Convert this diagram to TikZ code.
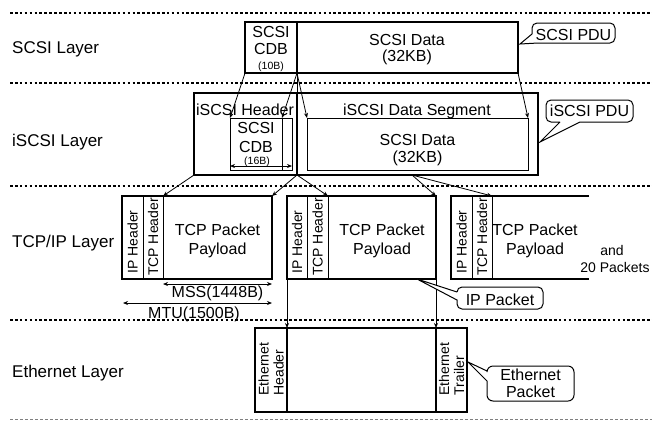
\documentclass[tikz,border=0pt]{standalone}
\usepackage{fontspec}
\setmainfont{Liberation Sans}
\usetikzlibrary{arrows.meta}
\begin{document}
\begin{tikzpicture}[x=1pt,y=-1pt,
  sep/.style={line width=2.8pt, dash pattern=on 2.6pt off 2.3pt},
  thickbox/.style={draw, line width=2.9pt, fill=white, inner sep=0pt, outer sep=0pt, anchor=north west},
  thinbox/.style={draw, line width=0.9pt, inner sep=0pt, outer sep=0pt, anchor=north west},
  div/.style={line width=1pt},
  txt/.style={font=\fontsize{16}{18}\selectfont, inner sep=0pt, anchor=base},
  mid/.style={font=\fontsize{14}{16}\selectfont, inner sep=0pt, anchor=base},
  small/.style={font=\fontsize{10.5}{12}\selectfont, inner sep=0pt, anchor=base},
  rtxt/.style={font=\fontsize{14}{15}\selectfont, rotate=90, inner sep=0pt, align=left},
  layer/.style={font=\fontsize{17}{19}\selectfont, inner sep=0pt, anchor=base west},
  arr/.style={line width=0.8pt, -{Stealth[length=5pt,width=4pt]}},
  dbl/.style={line width=0.8pt, {Stealth[length=5pt,width=4pt]}-{Stealth[length=5pt,width=4pt]}},
  cbox/.style={draw, line width=1pt, fill=white}
]
\useasboundingbox (0,0) rectangle (652,421);

% separators
\draw[sep] (10,13) -- (652,13);
\draw[sep] (10,83) -- (652,83);
\draw[sep] (10,186) -- (652,186);
\draw[sep] (10,320) -- (652,320);
\draw[gray, line width=0.8pt, dash pattern=on 3pt off 2pt] (10,419) -- (652,419);

% layer labels
\node[layer] (lscsi) at (12,53) {SCSI Layer};
\node[layer] (liscsi) at (12,146) {iSCSI Layer};
\node[layer] (ltcp) at (12,247) {TCP/IP Layer};
\node[layer] (leth) at (12,377) {Ethernet Layer};

% SCSI PDU
\node[thickbox, minimum width=52pt, minimum height=51pt] (scsicdb) at (245,22) {};
\node[thickbox, minimum width=221pt, minimum height=51pt] (scsidata) at (297,22) {};
\node[txt] (t1) at (271,37) {SCSI};
\node[txt] (t2) at (271,54) {CDB};
\node[small] (t3) at (271,69) {(10B)};
\node[txt] (t4) at (407,45) {SCSI Data};
\node[txt] (t5) at (407,61) {(32KB)};

% iSCSI PDU
\node[thickbox, minimum width=103pt, minimum height=82pt] (ihdr) at (194,93) {};
\node[thickbox, minimum width=241pt, minimum height=82pt] (iseg) at (297,93) {};
\node[txt] (t6) at (245,115) {iSCSI Header};
\node[txt] (t7) at (417,115) {iSCSI Data Segment};
\node[thinbox, minimum width=62pt, minimum height=52pt] (icdb) at (230,118) {};
\coordinate (icdbr) at (282,118);
\coordinate (icdbrb) at (282,170);
\draw[div] (icdbr) -- (icdbrb);
\node[thinbox, minimum width=221pt, minimum height=52pt] (idata) at (307,118) {};
\node[txt] (t8) at (256,133) {SCSI};
\node[txt] (t9) at (256,152) {CDB};
\coordinate (a16l) at (230,166);
\coordinate (a16r) at (292,166);
\draw[dbl] (a16l) -- (a16r);
\node[small] (t10) at (257,164) {(16B)};
\node[txt] (t11) at (417.5,145) {SCSI Data};
\node[txt] (t12) at (417.5,162) {(32KB)};

% SCSI -> iSCSI
\draw[div] (scsicdb.south east) -- (ihdr.north east);
\draw[arr] (scsicdb.south west) -- (icdb.north west);
\draw[arr] (scsicdb.south east) -- (icdbr);
\draw[arr] (scsicdb.south east) -- (idata.north west);
\draw[arr] (scsidata.south east) -- (idata.north east);

% TCP packets
\node[thickbox, minimum width=150pt, minimum height=83pt] (p1) at (122,196) {};
\draw[div] (143,196) -- (143,279);
\draw[div] (163,196) -- (163,279);
\node[thickbox, minimum width=149pt, minimum height=83pt] (p2) at (287,196) {};
\draw[div] (307,196) -- (307,279);
\draw[div] (328,196) -- (328,279);
\draw[line width=2.9pt] (589,196) -- (451,196) -- (451,279) -- (589,279);
\draw[div] (472,196) -- (472,279);
\draw[div] (492,196) -- (492,279);

\node[rtxt] (r1) at (132.5,242) {IP Header};
\node[rtxt] (r2) at (153,237) {TCP Header};
\node[rtxt] (r3) at (297,242) {IP Header};
\node[rtxt] (r4) at (317.5,237) {TCP Header};
\node[rtxt] (r5) at (461.5,242) {IP Header};
\node[rtxt] (r6) at (482,237) {TCP Header};

\node[txt] (t13) at (217.5,235) {TCP Packet};
\node[txt] (t14) at (217.5,254) {Payload};
\node[txt] (t15) at (382,235) {TCP Packet};
\node[txt] (t16) at (382,254) {Payload};
\node[txt] (t17) at (535,235) {TCP Packet};
\node[txt] (t18) at (535,254) {Payload};
\node[mid] (t19) at (612,255) {and};
\node[mid] (t20) at (615,272) {20 Packets};

% MSS / MTU
\coordinate (mssl) at (163,284);
\coordinate (mssr) at (272,284);
\draw[dbl] (mssl) -- (mssr);
\node[txt] (t21) at (217.5,297) {MSS(1448B)};
\coordinate (mtul) at (123,303);
\coordinate (mtur) at (272,303);
\draw[dbl] (mtul) -- (mtur);
\node[txt] (t22) at (194,318) {MTU(1500B)};

% iSCSI -> TCP
\coordinate (p1pay) at (163,196);
\coordinate (p2pay) at (328,196);
\coordinate (p3pay) at (492,196);
\coordinate (isrc) at (412,175);
\draw[arr] (ihdr.south west) -- (p1pay);
\draw[arr] (ihdr.south east) -- (p1.north east);
\draw[arr] (ihdr.south east) -- (p2pay);
\draw[arr] (isrc) -- (p2.north east);
\draw[arr] (isrc) -- (p3pay);

% Ethernet
\node[thickbox, minimum width=212pt, minimum height=84pt] (eth) at (255,328) {};
\coordinate (ethh) at (287,328);
\coordinate (etht) at (436,328);
\draw[line width=1.2pt] (ethh) -- (287,412);
\draw[line width=1.2pt] (etht) -- (436,412);
\node[rtxt] (r7) at (271,369) {Ethernet\\Header};
\node[rtxt] (r8) at (451.5,369) {Ethernet\\Trailer};
\draw[arr] (p2.south west) -- (ethh);
\draw[arr] (p2.south east) -- (etht);

% callouts
\draw[cbox] (532,34) -- (520,44) -- (538,43) [rounded corners=5pt] -- (615,43) -- (615,23) -- (532,23) -- (532,34);
\node[txt] (c1) at (573.5,40) {SCSI PDU};
\draw[cbox] (560,122) -- (540,142) -- (580,122) [rounded corners=5pt] -- (633,122) -- (633,100) -- (546,100) -- (546,122) -- (560,122);
\node[txt] (c2) at (589.5,116) {iSCSI PDU};
\draw[cbox] (457,292) -- (417,279) -- (457,300) [rounded corners=5pt] -- (457,309) -- (543,309) -- (543,287) -- (457,287) -- (457,292);
\node[txt] (c3) at (500,305) {IP Packet};
\draw[cbox] (487,371) -- (468,362) -- (487,381) [rounded corners=6pt] -- (487,401) -- (574,401) -- (574,366) -- (487,366) -- (487,371);
\node[txt] (c4) at (530.5,380) {Ethernet};
\node[txt] (c5) at (530.5,397) {Packet};
\end{tikzpicture}
\end{document}
